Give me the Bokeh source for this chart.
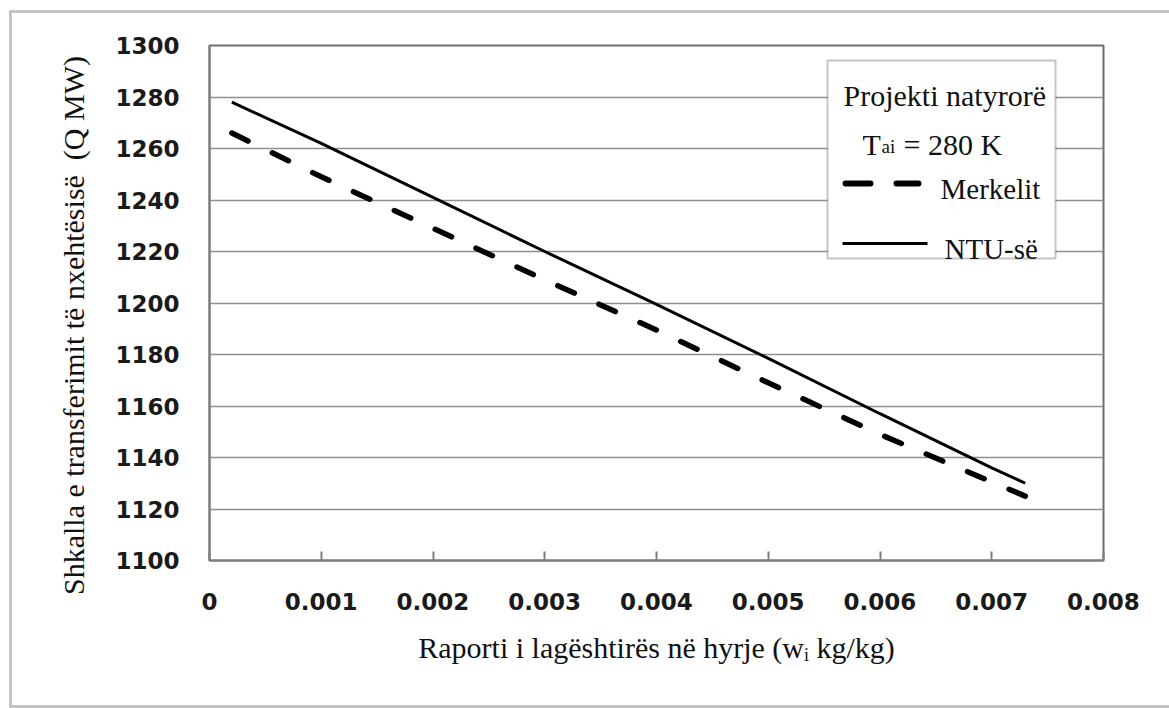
from bokeh.plotting import figure
from bokeh.models import (Range1d, FixedTicker, NumeralTickFormatter, Label,
                          BoxAnnotation, Arrow)
from bokeh.embed import file_html
from bokeh.resources import INLINE

# ---- data ----
x_vals = [0.0002, 0.001, 0.002, 0.003, 0.004, 0.005, 0.006, 0.007, 0.0073]
ntu_vals = [1278, 1262, 1241, 1220, 1199.5, 1178.5, 1157, 1136, 1130]
merkel_vals = [1266, 1249, 1229, 1209, 1189.5, 1169, 1149, 1130.5, 1125]
x_ticks = [0, 0.001, 0.002, 0.003, 0.004, 0.005, 0.006, 0.007, 0.008]
y_ticks = [1100, 1120, 1140, 1160, 1180, 1200, 1220, 1240, 1260, 1280, 1300]

W, H = 1169, 708
FL, FR, FT, FB = 209, 1103, 45, 560  # frame edges in canvas px

p = figure(width=W, height=H, output_backend="svg", toolbar_location=None,
           x_range=Range1d(0, 0.008), y_range=Range1d(1100, 1300),
           min_border_left=FL, min_border_right=W - FR,
           min_border_top=FT, min_border_bottom=H - FB)
p.background_fill_color = "white"
p.border_fill_color = None  # let the host background (with the outer frame) show
border_col = "#c4c4c4"
grad = f"linear-gradient({border_col},{border_col})"
p.styles = {
    "background": (f"{grad} 9px 10px / 3px 698px no-repeat, "
                   f"{grad} 9px 10px / 1160px 3px no-repeat, "
                   f"{grad} 9px 705px / 1160px 3px no-repeat, white"),
}
p.outline_line_color = "#6e6e6e"
p.outline_line_width = 2

p.xgrid.grid_line_color = None
p.ygrid.grid_line_color = "#8f8f8f"
p.ygrid.grid_line_width = 1.5
p.ygrid.ticker = FixedTicker(ticks=y_ticks)

tick_font = "DejaVu Sans"
lab_font = "Liberation Serif"

p.xaxis.ticker = FixedTicker(ticks=x_ticks)
p.xaxis.formatter = NumeralTickFormatter(format="0.[000]")
p.yaxis.ticker = FixedTicker(ticks=y_ticks)
for ax in (p.xaxis[0], p.yaxis[0]):
    ax.axis_line_color = "#7f7f7f"
    ax.axis_line_width = 2
    ax.major_label_text_font = tick_font
    ax.major_label_text_font_style = "bold"
    ax.major_label_text_font_size = "23px"
    ax.major_label_text_color = "#1a1a1a"
    ax.axis_label_text_font = lab_font
    ax.axis_label_text_font_style = "normal"
    ax.axis_label_text_font_size = "30px"
    ax.axis_label_text_color = "#111111"
    ax.minor_tick_line_color = None
p.xaxis.major_tick_in = 9
p.xaxis.major_tick_out = 0
p.xaxis.major_tick_line_color = "#7f7f7f"
p.xaxis.major_tick_line_width = 2
p.xaxis.major_label_standoff = 32
p.xaxis.axis_label_standoff = 18
p.yaxis.major_tick_in = 0
p.yaxis.major_tick_out = 0
p.yaxis.major_label_standoff = 30
p.yaxis.axis_label_standoff = 22

p.xaxis.axis_label = "Raporti i lagështirës në hyrje (wᵢ kg/kg)"
p.yaxis.axis_label = "Shkalla e transferimit të nxehtësisë\u00a0\u00a0(Q MW)" + "\u00a0" * 6

# ---- series ----
p.line(x_vals, merkel_vals, line_color="black", line_width=5.5,
       line_dash="18 27", line_cap="round")
p.line(x_vals, ntu_vals, line_color="black", line_width=3)

# ---- helpers: canvas px -> screen units (frame relative) ----
def sx(cx):
    return cx - FL

def sy(cy):
    return FB - cy

# legend box
p.add_layout(BoxAnnotation(left=sx(827), right=sx(1055), top=sy(60), bottom=sy(258),
                           left_units="screen", right_units="screen",
                           top_units="screen", bottom_units="screen",
                           fill_color="white", fill_alpha=1,
                           line_color="#404040", line_width=2))

def lab(text, cx, cy, size="30px"):
    p.add_layout(Label(x=sx(cx), y=sy(cy), x_units="screen", y_units="screen",
                       text=text, text_font=lab_font, text_font_size=size,
                       text_color="#111111", text_baseline="alphabetic",
                       text_align="left"))

lab("Projekti natyrorë", 843, 95)
lab("T", 862, 144)
lab("ai", 881, 146, "19px")
lab("= 280 K", 903, 144)
lab("Merkelit", 940, 188, "29px")
lab("NTU-së", 944, 248, "29px")

p.add_layout(Arrow(x_start=sx(845), y_start=sy(183), x_end=sx(918), y_end=sy(183),
                   start_units="screen", end_units="screen", end=None, start=None,
                   line_color="black", line_width=6, line_dash="25 26", line_cap="round"))
p.add_layout(Arrow(x_start=sx(842), y_start=sy(243), x_end=sx(927), y_end=sy(243),
                   start_units="screen", end_units="screen", end=None, start=None,
                   line_color="black", line_width=3))

open("out.html", "w").write(file_html(p, INLINE))
